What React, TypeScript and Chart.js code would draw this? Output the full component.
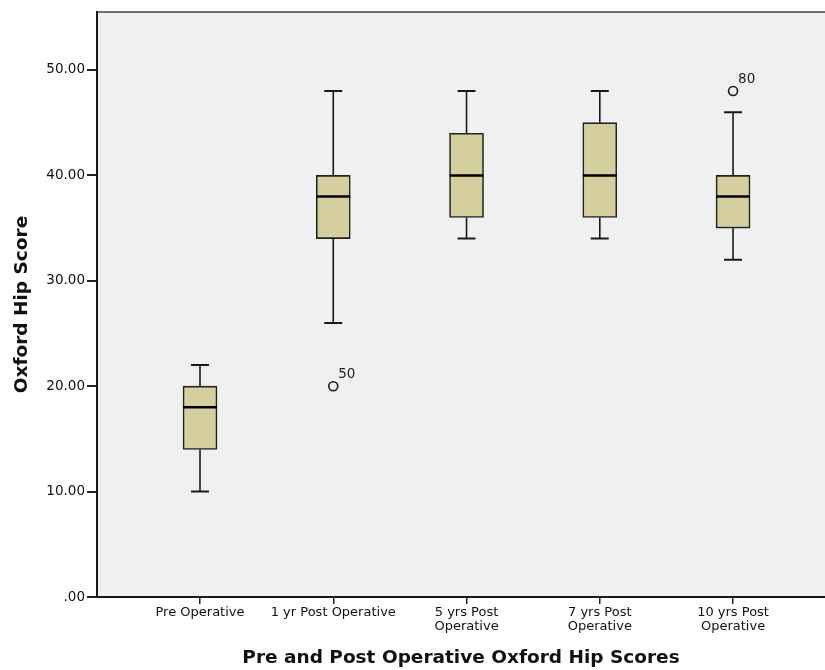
import React, { useEffect, useRef } from "react";
import { Chart, registerables } from "chart.js";

Chart.register(...registerables);

const categories: string[][] = [
  ["Pre Operative"],
  ["1 yr Post Operative"],
  ["5 yrs Post", "Operative"],
  ["7 yrs Post", "Operative"],
  ["10 yrs Post", "Operative"],
];
const whiskerLow = [10, 26, 34, 34, 32];
const q1 = [14, 34, 36, 36, 35];
const median = [18, 38, 40, 40, 38];
const q3 = [20, 40, 44, 45, 40];
const whiskerHigh = [22, 48, 48, 48, 46];

const outlierCategory = [2, 5];
const outlierValue = [20, 48];
const outlierLabel = ["50", "80"];

const yTicks = [0, 10, 20, 30, 40, 50];
const yTickLabels = [".00", "10.00", "20.00", "30.00", "40.00", "50.00"];

const yTitle = "Oxford Hip Score";
const xTitle = "Pre and Post Operative Oxford Hip Scores";

const FONT = "'DejaVu Sans', sans-serif";

const boxPlugin = {
  id: "boxExtras",
  beforeDraw(chart: any) {
    const { ctx, chartArea } = chart;
    ctx.save();
    ctx.fillStyle = "#f0f0f0";
    ctx.fillRect(chartArea.left, chartArea.top, chartArea.right - chartArea.left, chartArea.bottom - chartArea.top);
    ctx.strokeStyle = "#444";
    ctx.lineWidth = 1.5;
    ctx.beginPath();
    ctx.moveTo(chartArea.left, chartArea.top);
    ctx.lineTo(chartArea.right, chartArea.top);
    ctx.stroke();
    ctx.restore();
  },
  afterDatasetsDraw(chart: any) {
    const { ctx } = chart;
    const xs = chart.scales.x;
    const ys = chart.scales.y;
    ctx.save();
    ctx.strokeStyle = "#1a1a1a";
    for (let i = 0; i < categories.length; i++) {
      const cx = xs.getPixelForValue(i + 1);
      const yLow = ys.getPixelForValue(whiskerLow[i]);
      const yQ1 = ys.getPixelForValue(q1[i]);
      const yMed = ys.getPixelForValue(median[i]);
      const yQ3 = ys.getPixelForValue(q3[i]);
      const yHigh = ys.getPixelForValue(whiskerHigh[i]);
      ctx.lineWidth = 1.6;
      ctx.beginPath();
      ctx.moveTo(cx, yQ3);
      ctx.lineTo(cx, yHigh);
      ctx.moveTo(cx, yQ1);
      ctx.lineTo(cx, yLow);
      ctx.stroke();
      ctx.lineWidth = 2;
      ctx.beginPath();
      ctx.moveTo(cx - 9, yHigh);
      ctx.lineTo(cx + 9, yHigh);
      ctx.moveTo(cx - 9, yLow);
      ctx.lineTo(cx + 9, yLow);
      ctx.stroke();
      ctx.lineWidth = 2.5;
      ctx.strokeStyle = "#000";
      ctx.beginPath();
      ctx.moveTo(cx - 17, yMed);
      ctx.lineTo(cx + 17, yMed);
      ctx.stroke();
      ctx.strokeStyle = "#1a1a1a";
    }
    ctx.fillStyle = "#222";
    ctx.font = `13.5px ${FONT}`;
    ctx.textAlign = "left";
    ctx.textBaseline = "alphabetic";
    for (let j = 0; j < outlierValue.length; j++) {
      const px = xs.getPixelForValue(outlierCategory[j]);
      const py = ys.getPixelForValue(outlierValue[j]);
      ctx.fillText(outlierLabel[j], px + 5, py - 8);
    }
    ctx.restore();
  },
};

export default function App() {
  const ref = useRef<HTMLCanvasElement | null>(null);
  useEffect(() => {
    if (!ref.current) return;
    const chart = new Chart(ref.current, {
      type: "bar",
      data: {
        datasets: [
          {
            type: "bar",
            data: categories.map((_, i) => ({ x: i + 1, y: [q1[i], q3[i]] })) as any,
            backgroundColor: "#d4cf9c",
            borderColor: "#222",
            borderWidth: 1.6,
            borderSkipped: false,
            barThickness: 34,
          } as any,
          {
            type: "scatter",
            data: outlierValue.map((v, j) => ({ x: outlierCategory[j], y: v })),
            pointRadius: 4.5,
            pointBorderWidth: 1.6,
            pointBackgroundColor: "#f0f0f0",
            pointBorderColor: "#1a1a1a",
          } as any,
        ],
      },
      options: {
        animation: false,
        responsive: false,
        maintainAspectRatio: false,
        layout: { autoPadding: false, padding: { top: 12, left: 0, right: 0, bottom: 0 } },
        plugins: { legend: { display: false }, tooltip: { enabled: false } },
        scales: {
          x: {
            type: "linear",
            offset: false,
            min: 0.227,
            max: 5.69,
            afterBuildTicks: (axis: any) => {
              axis.ticks = categories.map((_, i) => ({ value: i + 1 }));
            },
            afterFit: (axis: any) => {
              axis.height = 73;
              axis.paddingRight = 0;
              axis.paddingLeft = 0;
            },
            grid: { display: true, offset: false, drawOnChartArea: false, tickLength: 7, color: "#222", lineWidth: 1.5 },
            border: { display: true, color: "#1a1a1a", width: 2 },
            ticks: {
              autoSkip: false,
              maxRotation: 0,
              padding: 2,
              color: "#111",
              font: { family: FONT, size: 13, lineHeight: 1.08 },
              callback: (v: any) => categories[Math.round(v) - 1] ?? "",
            },
            title: {
              display: true,
              text: xTitle,
              color: "#111",
              font: { family: FONT, size: 18.5, weight: "bold" },
              padding: { top: 0, bottom: 1 },
            },
          },
          y: {
            min: 0,
            max: 55.5,
            afterBuildTicks: (axis: any) => {
              axis.ticks = yTicks.map((v) => ({ value: v }));
            },
            afterFit: (axis: any) => {
              axis.width = 97;
            },
            grid: { display: true, drawOnChartArea: false, tickLength: 10, color: "#222", lineWidth: 2 },
            border: { display: true, color: "#1a1a1a", width: 2 },
            ticks: {
              padding: 2,
              color: "#111",
              font: { family: FONT, size: 13.5 },
              callback: (v: any) => {
                const k = yTicks.indexOf(Number(v));
                return k >= 0 ? yTickLabels[k] : "";
              },
            },
            title: {
              display: true,
              text: yTitle,
              color: "#111",
              font: { family: FONT, size: 18.5, weight: "bold" },
              padding: { top: 11, bottom: 0 },
            },
          },
        },
      },
      plugins: [boxPlugin],
    });
    return () => chart.destroy();
  }, []);
  return (
    <div style={{ position: "fixed", left: 0, top: 0, width: 825, height: 670, background: "#fff" }}>
      <canvas ref={ref} width={825} height={670} style={{ width: 825, height: 670 }} />
    </div>
  );
}
